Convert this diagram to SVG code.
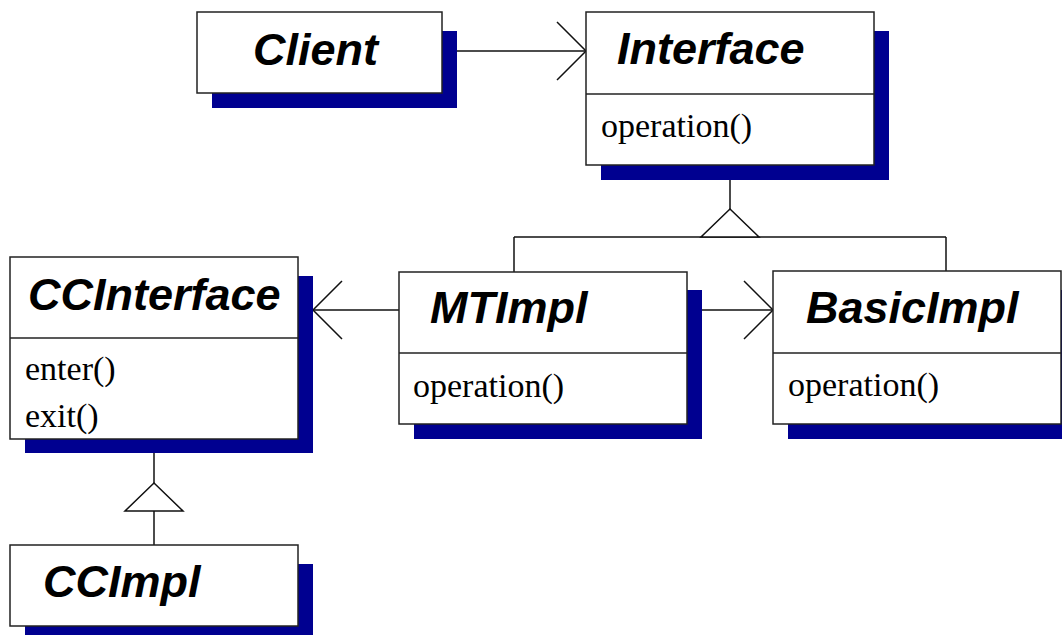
<svg xmlns="http://www.w3.org/2000/svg" width="1062" height="635" viewBox="0 0 1062 635">
  <style>
    .shadow { fill: #000090; stroke: none; }
    .box { fill: #ffffff; stroke: #222222; stroke-width: 1.5; }
    .div { stroke: #222222; stroke-width: 1.5; fill: none; }
    .title { font-family: "Liberation Sans", Arial, sans-serif; font-weight: bold; font-style: italic; font-size: 45px; fill: #000000; }
    .op { font-family: "Liberation Serif", "Times New Roman", serif; font-size: 34px; fill: #000000; }
    .line { stroke: #111111; stroke-width: 1.5; fill: none; }
    .tri { stroke: #111111; stroke-width: 1.5; fill: #ffffff; }
  </style>
  <rect width="1062" height="635" fill="#ffffff"/>

  <!-- Connectors -->
  <g id="connectors">
    <!-- Client uses Interface -->
    <line class="line" x1="457" y1="51" x2="586" y2="51"/>
    <polyline class="line" points="557,22 586,51 557,80"/>
    <!-- Implementations inherit from Interface -->
    <line class="line" x1="730" y1="180" x2="730" y2="209"/>
    <line class="line" x1="514" y1="237" x2="946" y2="237"/>
    <line class="line" x1="514" y1="237" x2="514" y2="272"/>
    <line class="line" x1="946" y1="237" x2="946" y2="271"/>
    <polygon class="tri" points="730,209 701,237 759,237"/>
    <!-- MTImpl uses CCInterface -->
    <line class="line" x1="313" y1="310" x2="399" y2="310"/>
    <polyline class="line" points="342,281 313,310 342,339"/>
    <!-- MTImpl delegates to BasicImpl -->
    <line class="line" x1="687" y1="310" x2="773" y2="310"/>
    <polyline class="line" points="744,281 773,310 744,339"/>
    <!-- CCImpl inherits from CCInterface -->
    <line class="line" x1="154" y1="453" x2="154" y2="483"/>
    <line class="line" x1="154" y1="511" x2="154" y2="545"/>
    <polygon class="tri" points="154,483 125,511 183,511"/>
  </g>

  <g id="client">
    <rect class="shadow" x="212" y="31" width="245" height="77"/>
    <rect class="box" x="197" y="12" width="245" height="81"/>
    <text class="title" x="253" y="65">Client</text>
  </g>

  <g id="interface">
    <rect class="shadow" x="601" y="31" width="288" height="149"/>
    <rect class="box" x="586" y="12" width="288" height="153"/>
    <line class="div" x1="586" y1="94" x2="874" y2="94"/>
    <text class="title" x="617" y="64">Interface</text>
    <text class="op" x="601" y="137">operation()</text>
  </g>

  <g id="ccinterface">
    <rect class="shadow" x="25" y="276" width="288" height="177"/>
    <rect class="box" x="10" y="257" width="288" height="182"/>
    <line class="div" x1="10" y1="338" x2="298" y2="338"/>
    <text class="title" x="28" y="310">CCInterface</text>
    <text class="op" x="25" y="380">enter()</text>
    <text class="op" x="25" y="427">exit()</text>
  </g>

  <g id="mtimpl">
    <rect class="shadow" x="414" y="290" width="288" height="149"/>
    <rect class="box" x="399" y="272" width="288" height="152"/>
    <line class="div" x1="399" y1="353" x2="687" y2="353"/>
    <text class="title" x="430" y="323">MTImpl</text>
    <text class="op" x="413" y="397">operation()</text>
  </g>

  <g id="basicimpl">
    <rect class="shadow" x="788" y="290" width="288" height="149"/>
    <rect class="box" x="773" y="271" width="288" height="153"/>
    <line class="div" x1="773" y1="353" x2="1061" y2="353"/>
    <text class="title" x="806" y="323">BasicImpl</text>
    <text class="op" x="788" y="396">operation()</text>
  </g>

  <g id="ccimpl">
    <rect class="shadow" x="25" y="564" width="288" height="77"/>
    <rect class="box" x="10" y="545" width="288" height="81"/>
    <text class="title" x="43" y="597">CCImpl</text>
  </g>
</svg>
